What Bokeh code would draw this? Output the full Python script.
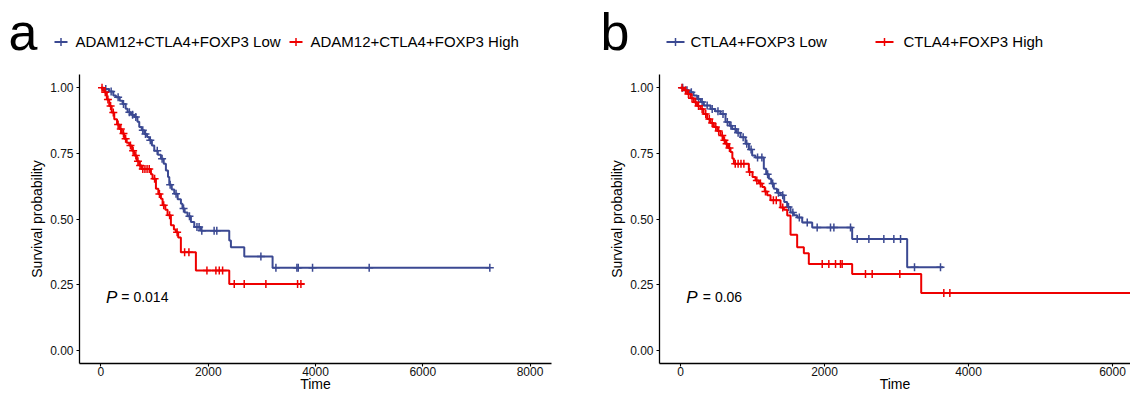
import numpy as np
from bokeh.plotting import figure
from bokeh.models import Range1d, FixedTicker, Label, NumeralTickFormatter, BasicTickFormatter
from bokeh.layouts import column, row
from bokeh.embed import file_html
from bokeh.resources import INLINE

FONT = "Liberation Sans"
BLUE = "#3B4992"
RED = "#EE0000"

# ---------------- data: panel a ----------------
a_low_name = "ADAM12+CTLA4+FOXP3 Low"
a_low_t = [50, 150, 230, 280, 350, 404, 460, 497, 560, 621, 680, 714, 760, 808, 860, 901, 950, 994,
           1060, 1118, 1170, 1211, 1250, 1274, 1320, 1367, 1430, 1491, 1520, 1560, 1615, 1677, 1740,
           1864, 2392, 2423, 2672, 3200]
a_low_s = [0.995, 0.985, 0.97, 0.963, 0.95, 0.938, 0.92, 0.906, 0.897, 0.888, 0.87, 0.85, 0.838, 0.824,
           0.812, 0.80, 0.78, 0.76, 0.745, 0.729, 0.71, 0.685, 0.66, 0.63, 0.612, 0.596, 0.575, 0.558,
           0.54, 0.525, 0.51, 0.489, 0.47, 0.455, 0.418, 0.392, 0.357, 0.314]
a_low_end = 7250
a_low_cens = [90, 190, 320, 420, 530, 590, 650, 780, 830, 920, 1050, 1140, 1290, 1400, 1540, 1650,
              1790, 1830, 1880, 2110, 2160, 2982, 3262, 3653, 3678, 3945, 5001, 7250]

a_high_name = "ADAM12+CTLA4+FOXP3 High"
a_high_t = [30, 62, 110, 155, 200, 248, 300, 342, 390, 435, 480, 528, 580, 621, 670, 714, 760, 932,
            963, 1025, 1070, 1118, 1149, 1200, 1242, 1304, 1360, 1397, 1440, 1490, 1770, 2392]
a_high_s = [0.99, 0.982, 0.955, 0.93, 0.905, 0.88, 0.86, 0.843, 0.825, 0.805, 0.79, 0.78, 0.76, 0.742,
            0.72, 0.704, 0.69, 0.67, 0.653, 0.615, 0.595, 0.577, 0.552, 0.535, 0.514, 0.476, 0.46,
            0.45, 0.43, 0.373, 0.304, 0.253]
a_high_end = 3790
a_high_cens = [20, 80, 130, 180, 230, 320, 370, 420, 460, 550, 600, 650, 690, 730, 780, 820, 860, 900,
               1000, 1090, 1170, 1280, 1420, 1560, 1640, 1976, 2143, 2206, 2268, 2485, 2671, 3075,
               3666, 3728]
a_pval = "= 0.014"

# ---------------- data: panel b ----------------
b_low_name = "CTLA4+FOXP3 Low"
b_low_t = [60, 116, 180, 231, 280, 324, 417, 480, 556, 625, 680, 718, 780, 833, 903, 950, 995, 1040,
           1157, 1190, 1227, 1260, 1296, 1340, 1389, 1440, 1481, 1528, 1574, 1620, 1690, 1829, 2384, 3148]
b_low_s = [0.99, 0.982, 0.97, 0.957, 0.945, 0.932, 0.919, 0.91, 0.90, 0.869, 0.855, 0.843, 0.828, 0.811,
           0.786, 0.765, 0.742, 0.734, 0.691, 0.67, 0.653, 0.635, 0.615, 0.60, 0.59, 0.565, 0.546,
           0.525, 0.514, 0.506, 0.487, 0.468, 0.424, 0.316]
b_low_end = 3648
b_low_cens = [30, 90, 150, 250, 300, 370, 440, 520, 590, 650, 700, 760, 800, 870, 920, 980, 1070, 1130,
              1210, 1280, 1360, 1420, 1500, 1560, 1650, 1760, 1898, 2083, 2130, 2361, 2454, 2616, 2824,
              2963, 3056, 3250, 3611]

b_high_name = "CTLA4+FOXP3 High"
b_high_t = [46, 93, 139, 185, 230, 278, 320, 370, 417, 463, 510, 556, 590, 625, 660, 694, 720, 741,
            949, 1000, 1042, 1090, 1134, 1170, 1204, 1250, 1389, 1435, 1482, 1528, 1620, 1713, 1782,
            2384, 3343]
b_high_s = [0.99, 0.976, 0.96, 0.944, 0.93, 0.919, 0.90, 0.881, 0.865, 0.85, 0.835, 0.818, 0.80, 0.786,
            0.77, 0.755, 0.73, 0.71, 0.679, 0.66, 0.647, 0.635, 0.622, 0.605, 0.59, 0.571, 0.544,
            0.535, 0.513, 0.44, 0.392, 0.37, 0.329, 0.291, 0.218]
b_high_end = 6400
b_high_cens = [20, 70, 110, 160, 210, 250, 300, 350, 400, 440, 490, 530, 580, 610, 640, 680, 760, 800,
               840, 880, 960, 1060, 1110, 1180, 1290, 1330, 1420, 1968, 2060, 2153, 2222, 2245, 2569,
               2662, 3046, 3657, 3741]
b_pval = "= 0.06"

y_ticks = [0, 0.25, 0.5, 0.75, 1.0]
a_x_ticks = [0, 2000, 4000, 6000, 8000]
b_x_ticks = [0, 2000, 4000, 6000]
x_title = "Time"
y_title = "Survival probability"


def style_axes(p, x_ticks):
    for ax in (p.xaxis[0], p.yaxis[0]):
        ax.axis_line_color = "black"
        ax.axis_line_width = 1.3
        ax.major_tick_line_color = "black"
        ax.major_tick_line_width = 1.1
        ax.major_tick_out = 3
        ax.major_tick_in = 0
        ax.minor_tick_line_color = None
        ax.major_label_text_font = FONT
        ax.major_label_text_font_size = "12px"
        ax.major_label_text_color = "#111111"
        ax.axis_label_text_font = FONT
        ax.axis_label_text_font_size = "14px"
        ax.axis_label_text_font_style = "normal"
        ax.axis_label_text_color = "black"
    p.xaxis[0].ticker = FixedTicker(ticks=x_ticks)
    p.xaxis[0].formatter = BasicTickFormatter(use_scientific=False)
    p.yaxis[0].ticker = FixedTicker(ticks=y_ticks)
    p.yaxis[0].formatter = NumeralTickFormatter(format="0.00")
    p.xaxis[0].major_label_standoff = 0
    p.xaxis[0].axis_label_standoff = -3
    p.yaxis[0].major_label_standoff = 3
    p.yaxis[0].axis_label_standoff = 2
    p.xgrid.visible = False
    p.ygrid.visible = False
    p.outline_line_color = None


def add_group(p, times, surv, end, cens, color):
    st = np.array([0] + times + [end], dtype=float)
    ss = np.array([1.0] + surv + [surv[-1]], dtype=float)
    p.step(st, ss, mode="after", line_color=color, line_width=2)
    c = np.array(cens, dtype=float)
    idx = np.searchsorted(st, c, side="right") - 1
    p.scatter(c, ss[idx], marker="cross", size=8, line_color=color, line_width=1.5)


def km_panel(width, bl, br, xr, x_ticks, groups, pval, p_x, eq_x):
    p = figure(width=width, height=325, x_range=Range1d(*xr), y_range=Range1d(-0.05, 1.05),
               toolbar_location=None, output_backend="svg",
               min_border_left=bl, min_border_right=br, min_border_top=4, min_border_bottom=32,
               x_axis_label=x_title, y_axis_label=y_title)
    style_axes(p, x_ticks)
    for g in groups:
        add_group(p, *g)
    p.add_layout(Label(x=p_x, y=0.202, text="P", text_font=FONT, text_font_size="17px",
                       text_font_style="italic", text_color="black", text_baseline="alphabetic"))
    p.add_layout(Label(x=eq_x, y=0.202, text=pval, text_font=FONT, text_font_size="14px",
                       text_color="black", text_baseline="alphabetic"))
    return p


def legend_panel(width, x0, letter, letter_x, items):
    p = figure(width=width, height=70, x_range=Range1d(x0, x0 + width), y_range=Range1d(70, 0),
               toolbar_location=None, output_backend="svg", min_border=0,
               x_axis_location=None, y_axis_location=None)
    p.xgrid.visible = False
    p.ygrid.visible = False
    p.outline_line_color = None
    p.add_layout(Label(x=letter_x, y=31, text=letter, text_font=FONT, text_font_size="52px",
                       text_baseline="alphabetic", text_color="black"))
    for name, color, gx0, gx1, tx in items:
        p.segment(x0=[gx0], y0=[41.5], x1=[gx1], y1=[41.5], line_color=color, line_width=2)
        p.scatter(x=[(gx0 + gx1) / 2], y=[41.5], marker="cross", size=8, line_color=color, line_width=1.5)
        p.add_layout(Label(x=tx, y=40.5, text=name, text_font=FONT, text_font_size="15px",
                           text_baseline="alphabetic", text_color="black"))
    return p


leg_a = legend_panel(560, 0, "a", 8,
                     [(a_low_name, BLUE, 54, 67, 75), (a_high_name, RED, 289, 302, 310)])
leg_b = legend_panel(570, 560, "b", 600,
                     [(b_low_name, BLUE, 666, 684, 690), (b_high_name, RED, 875, 893, 903)])

fig_a = km_panel(560, 79, 9, (-400, 8400), a_x_ticks,
                 [(a_low_t, a_low_s, a_low_end, a_low_cens, BLUE),
                  (a_high_t, a_high_s, a_high_end, a_high_cens, RED)],
                 a_pval, 95, 380)
fig_b = km_panel(570, 99, 0, (-292, 6250), b_x_ticks,
                 [(b_low_t, b_low_s, b_low_end, b_low_cens, BLUE),
                  (b_high_t, b_high_s, b_high_end, b_high_cens, RED)],
                 b_pval, 80, 310)

layout = column(row(leg_a, leg_b), row(fig_a, fig_b))
open("out.html", "w").write(file_html(layout, INLINE))
